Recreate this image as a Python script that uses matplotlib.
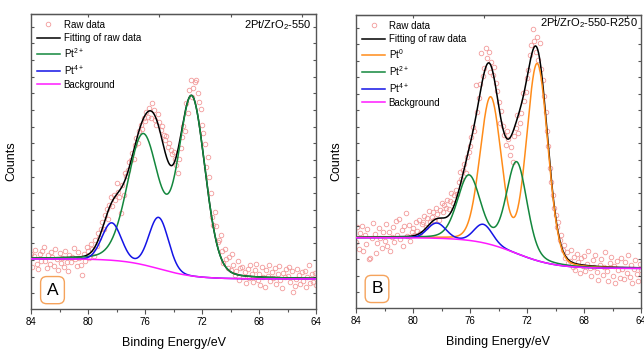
import numpy as np
import matplotlib
matplotlib.use("Agg")
import matplotlib.pyplot as plt
from matplotlib.ticker import MultipleLocator, FixedLocator

plt.rcParams['font.family'] = ['Liberation Sans', 'DejaVu Sans']
plt.rcParams['mathtext.fontset'] = 'custom'
plt.rcParams['mathtext.rm'] = 'Liberation Sans'
plt.rcParams['mathtext.default'] = 'regular'

# ---------------- data ----------------
# binding energies of raw data points, 84.0 -> 64.0 eV in 0.1 eV steps
energy_raw = np.round(np.linspace(84.0, 64.0, 201), 1)

raw_A = [
    18.5, 14.2, 17.9, 20.1, 15.3, 13.6, 18.8, 16.2, 19.7, 21.0,
    16.4, 13.9, 18.2, 15.1, 19.3, 17.7, 14.5, 20.4, 16.8, 13.2,
    18.9, 15.6, 17.3, 14.1, 19.8, 16.0, 12.9, 18.4, 15.8, 17.6,
    20.6, 16.9, 14.6, 19.2, 17.4, 15.0, 11.5, 18.7, 16.3, 20.9,
    19.5, 17.2, 22.0, 20.3, 18.1, 23.4, 21.5, 25.8, 23.9, 27.0,
    29.5, 27.2, 31.8, 33.9, 30.6, 35.4, 38.0, 34.8, 38.6, 36.9,
    42.6, 39.8, 38.0, 32.5, 41.9, 38.6, 46.0, 45.0, 47.1, 49.9,
    50.5, 52.8, 51.0, 55.6, 57.9, 56.2, 60.5, 62.4, 61.0, 64.9,
    63.8, 66.9, 65.2, 68.1, 64.7, 69.7, 67.3, 64.0, 62.4, 66.0,
    63.5, 60.8, 62.1, 59.0, 57.3, 58.6, 55.0, 56.2, 53.9, 52.4,
    53.3, 51.0, 48.7, 46.0, 50.9, 54.6, 58.2, 62.0, 60.4, 69.7,
    66.5, 74.2, 77.6, 72.0, 74.8, 77.0, 77.6, 73.3, 70.1, 67.8,
    62.5, 59.5, 55.8, 48.2, 51.6, 44.8, 39.2, 31.3, 28.5, 33.0,
    28.0, 22.8, 23.4, 25.1, 19.6, 15.5, 20.2, 16.8, 14.0, 17.7,
    13.2, 18.6, 15.0, 11.4, 12.8, 16.3, 9.7, 13.9, 14.3, 11.0,
    12.5, 8.9, 13.6, 10.4, 14.8, 11.7, 9.2, 13.1, 15.2, 10.0,
    12.0, 8.1, 14.4, 10.9, 7.6, 13.3, 11.2, 15.0, 9.4, 12.6,
    10.5, 13.8, 8.4, 11.9, 14.6, 9.9, 7.2, 12.2, 10.8, 13.5,
    11.1, 14.1, 9.0, 12.9, 5.8, 7.9, 10.2, 13.7, 11.6, 8.6,
    12.4, 9.6, 13.0, 7.4, 10.7, 14.9, 8.8, 11.8, 9.3, 12.1,
    8.2,
]

raw_B = [
    22.5, 27.8, 20.1, 25.6, 28.0, 19.4, 24.8, 21.7, 26.9, 16.6,
    17.0, 23.9, 29.1, 25.3, 18.8, 22.2, 27.4, 24.0, 20.4, 26.1,
    23.0, 28.6, 21.3, 25.9, 19.6, 24.4, 27.7, 22.6, 29.8, 25.0,
    30.3, 23.5, 26.6, 21.0, 27.9, 32.5, 24.7, 28.3, 22.8, 26.0,
    27.4, 24.9, 29.2, 26.3, 30.0, 25.6, 28.8, 29.5, 31.4, 27.7,
    30.8, 33.1, 29.4, 31.2, 32.6, 30.1, 34.0, 32.2, 30.0, 33.5,
    35.8, 32.7, 35.2, 34.3, 37.0, 33.8, 36.5, 39.1, 35.7, 38.4,
    40.2, 38.8, 43.1, 46.5, 44.0, 47.0, 49.3, 46.0, 51.6, 53.3,
    55.2, 58.4, 61.9, 60.4, 76.1, 67.0, 71.8, 76.5, 86.9, 79.3,
    82.0, 88.6, 85.2, 87.3, 80.7, 84.0, 79.5, 82.4, 76.8, 73.9,
    70.2, 63.0, 67.4, 62.1, 58.9, 55.6, 60.3, 57.8, 52.2, 55.0,
    50.0, 58.6, 61.4, 65.9, 59.8, 63.0, 66.4, 73.3, 70.5, 73.8,
    78.6, 81.2, 86.3, 89.8, 95.1, 91.0, 87.5, 92.4, 84.6, 90.3,
    81.5, 77.8, 72.4, 67.0, 60.5, 55.2, 47.9, 43.1, 38.5, 34.2,
    31.6, 27.7, 29.4, 23.2, 25.0, 19.8, 21.6, 17.0, 19.2, 15.4,
    16.2, 19.9, 14.1, 17.3, 13.0, 18.4, 15.6, 11.8, 16.9, 14.4,
    17.8, 12.6, 15.1, 19.3, 13.7, 10.9, 16.4, 14.0, 18.1, 12.2,
    9.6, 14.8, 16.6, 11.4, 13.9, 19.0, 12.5, 9.1, 15.3, 17.4,
    11.0, 14.2, 8.4, 16.0, 12.9, 10.1, 17.0, 13.3, 9.8, 15.7,
    12.0, 18.2, 10.7, 14.6, 8.6, 13.4, 16.3, 11.5, 9.2, 14.9,
    12.8,
]

# fitted peak parameters: centres (eV), heights, FWHM (eV), Lorentz fraction
# Panel A
A_pt2_centers = [76.12, 72.72]
A_pt2_heights = [43.6, 60.0]
A_pt2_fwhm = [2.6, 2.2]
A_pt2_eta = [0.15, 0.15]
A_pt4_centers = [78.34, 75.04]
A_pt4_heights = [12.7, 17.4]
A_pt4_fwhm = [1.6, 1.6]
A_pt4_eta = [0.0, 0.0]
A_bg_high, A_bg_low, A_bg_mid, A_bg_width = 17.0, 10.2, 75.0, 1.3

# Panel B
B_pt0_centers = [74.55, 71.28]
B_pt0_heights = [50.0, 67.0]
B_pt0_fwhm = [1.75, 1.75]
B_pt0_eta = [0.1, 0.1]
B_pt2_centers = [76.07, 72.72]
B_pt2_heights = [22.0, 31.0]
B_pt2_fwhm = [1.9, 1.7]
B_pt2_eta = [0.2, 0.2]
B_pt4_centers = [78.34, 75.07]
B_pt4_heights = [5.2, 6.3]
B_pt4_fwhm = [1.5, 1.5]
B_pt4_eta = [0.0, 0.0]
B_bg_high, B_bg_low, B_bg_mid, B_bg_width = 24.0, 13.5, 72.8, 1.4

x_ticks = [84, 80, 76, 72, 68, 64]
title_A = '2Pt/ZrO$_2$-550'
title_B = '2Pt/ZrO$_2$-550-R250'

# ---------------- helpers ----------------
E = np.linspace(84.0, 64.0, 1001)


def pv(x, c, h, f, eta):
    g = np.exp(-4 * np.log(2) * (x - c) ** 2 / f ** 2)
    l = 1.0 / (1.0 + 4 * (x - c) ** 2 / f ** 2)
    return h * ((1 - eta) * g + eta * l)


def doublet(x, cs, hs, fs, etas):
    return sum(pv(x, c, h, f, e) for c, h, f, e in zip(cs, hs, fs, etas))


def background(x, hi, lo, mid, w):
    return lo + (hi - lo) / (1.0 + np.exp(-(x - mid) / w))


C_RAW = '#f29a9a'
C_FIT = '#000000'
C_PT0 = '#ff8c1a'
C_PT2 = '#13873d'
C_PT4 = '#1414e6'
C_BG = '#ff1aff'
SPINE = '#555555'

fig = plt.figure(figsize=(6.44, 3.51), dpi=100)
axA = fig.add_axes([31 / 644, 1 - 309 / 351, 285 / 644, 295 / 351])
axB = fig.add_axes([356 / 644, 1 - 308 / 351, 285 / 644, 293 / 351])


def style_axes(ax):
    ax.set_xlim(84, 64)
    ax.set_ylim(0, 100)
    ax.xaxis.set_major_locator(FixedLocator(x_ticks))
    ax.xaxis.set_minor_locator(MultipleLocator(2))
    ax.yaxis.set_major_locator(FixedLocator(np.arange(5.3, 100, 5.65)))
    ax.set_yticklabels([])
    ax.tick_params(axis='x', which='major', direction='out', length=3.5, width=0.8,
                   color=SPINE, labelsize=7, pad=2.5, top=False)
    ax.tick_params(axis='x', which='minor', direction='out', length=2.2, width=0.8,
                   color=SPINE, top=False)
    ax.tick_params(axis='y', which='major', direction='in', length=2.2, width=0.8,
                   color=SPINE, left=True, right=True)
    ax.secondary_xaxis('top').tick_params(which='both', direction='in', length=2.2,
                                          width=0.8, color=SPINE, labeltop=False)
    for s in ax.spines.values():
        s.set_color(SPINE)
        s.set_linewidth(1.0)
    ax.set_xlabel('Binding Energy/eV', fontsize=9, labelpad=7)
    ax.set_ylabel('Counts', fontsize=9, labelpad=6)


lw = 1.1

# ---------------- panel A ----------------
bgA = background(E, A_bg_high, A_bg_low, A_bg_mid, A_bg_width)
pt2A = doublet(E, A_pt2_centers, A_pt2_heights, A_pt2_fwhm, A_pt2_eta)
pt4A = doublet(E, A_pt4_centers, A_pt4_heights, A_pt4_fwhm, A_pt4_eta)
axA.plot(energy_raw, raw_A, 'o', mfc='none', mec=C_RAW, ms=3.3, mew=0.6,
         label='Raw data', zorder=1)
axA.plot(E, bgA + pt2A + pt4A, color=C_FIT, lw=lw, label='Fitting of raw data', zorder=2)
axA.plot(E, bgA + pt2A, color=C_PT2, lw=lw, label='Pt$^{2+}$', zorder=3)
axA.plot(E, bgA + pt4A, color=C_PT4, lw=lw, label='Pt$^{4+}$', zorder=3)
axA.plot(E, bgA, color=C_BG, lw=lw, label='Background', zorder=4)
style_axes(axA)
axA.text(0.985, 0.985, title_A, transform=axA.transAxes, ha='right', va='top', fontsize=8)
axA.text(0.0754, 0.064, 'A', transform=axA.transAxes, ha='center', va='center',
         fontsize=12.5,
         bbox=dict(boxstyle='round,pad=0.35,rounding_size=0.35', fc='white',
                   ec='#f5a35c', lw=1.0))

# ---------------- panel B ----------------
bgB = background(E, B_bg_high, B_bg_low, B_bg_mid, B_bg_width)
pt0B = doublet(E, B_pt0_centers, B_pt0_heights, B_pt0_fwhm, B_pt0_eta)
pt2B = doublet(E, B_pt2_centers, B_pt2_heights, B_pt2_fwhm, B_pt2_eta)
pt4B = doublet(E, B_pt4_centers, B_pt4_heights, B_pt4_fwhm, B_pt4_eta)
axB.plot(energy_raw, raw_B, 'o', mfc='none', mec=C_RAW, ms=3.3, mew=0.6,
         label='Raw data', zorder=1)
axB.plot(E, bgB + pt0B + pt2B + pt4B, color=C_FIT, lw=lw, label='Fitting of raw data', zorder=2)
axB.plot(E, bgB + pt0B, color=C_PT0, lw=lw, label='Pt$^{0}$', zorder=3)
axB.plot(E, bgB + pt2B, color=C_PT2, lw=lw, label='Pt$^{2+}$', zorder=3)
axB.plot(E, bgB + pt4B, color=C_PT4, lw=lw, label='Pt$^{4+}$', zorder=3)
axB.plot(E, bgB, color=C_BG, lw=lw, label='Background', zorder=4)
style_axes(axB)
axB.text(0.99, 0.995, title_B, transform=axB.transAxes, ha='right', va='top', fontsize=8)
axB.text(0.0737, 0.065, 'B', transform=axB.transAxes, ha='center', va='center',
         fontsize=12.5,
         bbox=dict(boxstyle='round,pad=0.35,rounding_size=0.35', fc='white',
                   ec='#f5a35c', lw=1.0))

for ax in (axA, axB):
    ax.legend(loc='upper left', frameon=False, fontsize=7, handlelength=2.4,
              handletextpad=0.35, labelspacing=0.32, borderaxespad=0.4,
              borderpad=0.2, markerscale=1.0)

fig.savefig('out.png', dpi=100)
